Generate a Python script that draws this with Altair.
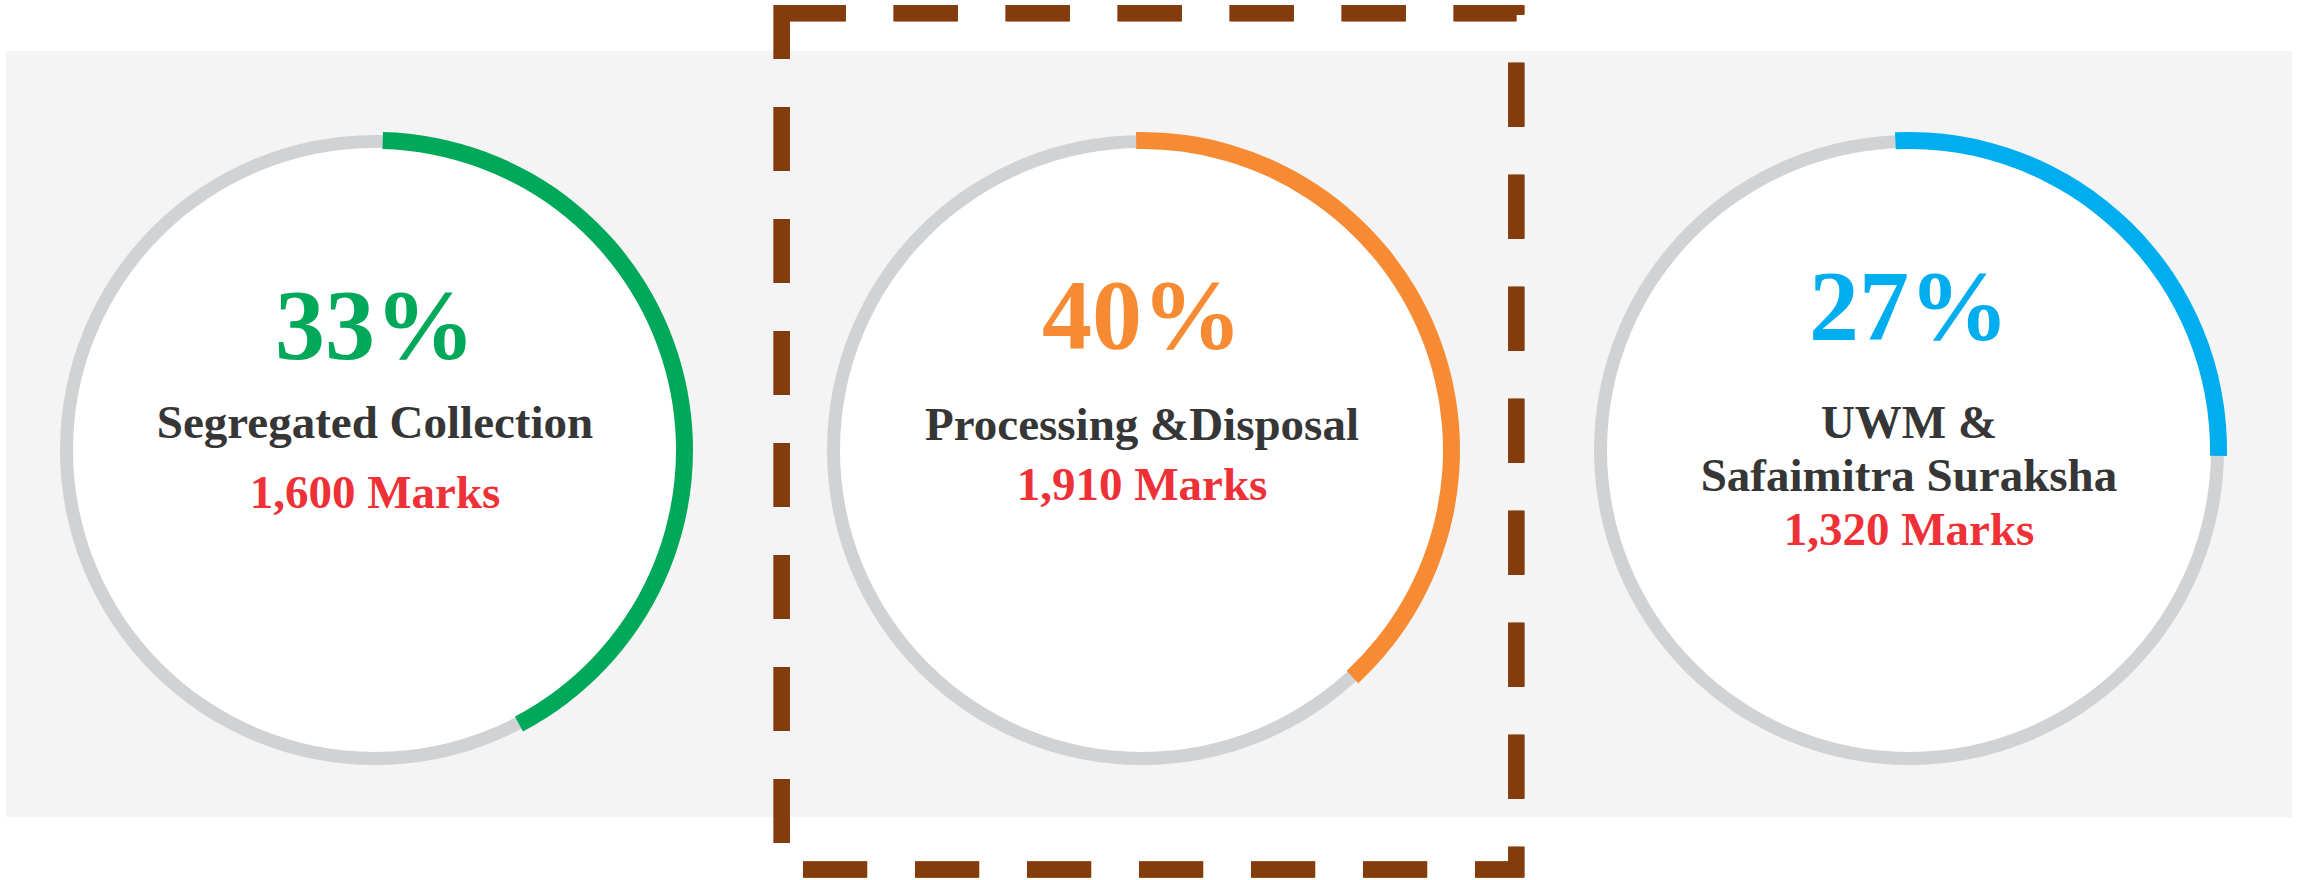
import altair as alt
import pandas as pd

# ---- data ----
categories = ["Segregated Collection", "Processing & Disposal", "UWM & Safaimitra Suraksha"]
pct_labels = ["33%", "40%", "27%"]
marks_labels = ["1,600 Marks", "1,910 Marks", "1,320 Marks"]
# drawn arc extent, as fraction of the full circle (clockwise from 12 o'clock)
arc_start = [0.004, -0.003, -0.007]
arc_end = [0.423, 0.381, 0.253]
title_lines = [["Segregated Collection"], ["Processing &Disposal"], ["UWM &", "Safaimitra Suraksha"]]

colors = ["#00a859", "#f68b33", "#00aeef"]

df = pd.DataFrame({
    "category": categories,
    "pct": pct_labels,
    "marks": marks_labels,
    "arc_start": arc_start,
    "arc_end": arc_end,
})

W, H = 2301, 880
CY = 450
TWO_PI = 6.283185307

xenc = alt.X("category:N", scale=alt.Scale(type="point", domain=categories, range=[375, 1909], padding=0), axis=None)
cenc = alt.Color("category:N", scale=alt.Scale(domain=categories, range=colors), legend=None)

base = alt.Chart(df)

panel = base.mark_rect(color="#f4f4f4").encode(
    x=alt.value(6), x2=alt.value(2292), y=alt.value(51), y2=alt.value(817)
)

disk = base.mark_arc(radius=303, theta=0, theta2=TWO_PI, color="#ffffff").encode(
    x=xenc, y=alt.value(CY)
)
ring = base.mark_arc(radius=315, radius2=302, theta=0, theta2=TWO_PI, color="#d1d2d4").encode(
    x=xenc, y=alt.value(CY)
)
arc = base.mark_arc(radius=318, radius2=301).encode(
    x=xenc,
    y=alt.value(CY),
    theta=alt.Theta("arc_start:Q", scale=alt.Scale(domain=[0, 1], range=[0, TWO_PI]), stack=None),
    theta2=alt.Theta2("arc_end:Q"),
    color=cenc,
)

box = base.mark_rect(filled=False, stroke="#843c0c", strokeWidth=16, strokeDash=[64, 48]).encode(
    x=alt.value(781.7), x2=alt.value(1516.3), y=alt.value(13.3), y2=alt.value(869.5)
)

# text baselines per circle
pct_y = [358, 348, 339]
title_y = [[438], [440], [438, 491]]
marks_y = [508, 500, 545]

FONT = "Liberation Serif"
layers = [panel, disk, ring, arc, box]
for i, cat in enumerate(categories):
    sub = base.transform_filter(alt.datum.category == cat)
    layers.append(sub.mark_text(font=FONT, fontWeight="bold", fontSize=100, baseline="alphabetic", align="center").encode(
        x=xenc, y=alt.value(pct_y[i]), text="pct:N", color=cenc))
    for line, ly in zip(title_lines[i], title_y[i]):
        layers.append(sub.mark_text(font=FONT, fontWeight="bold", fontSize=47, baseline="alphabetic", align="center",
                                    color="#363636", text=line).encode(x=xenc, y=alt.value(ly)))
    layers.append(sub.mark_text(font=FONT, fontWeight="bold", fontSize=47, baseline="alphabetic", align="center",
                                color="#ee3137").encode(x=xenc, y=alt.value(marks_y[i]), text="marks:N"))

chart = alt.layer(*layers).properties(
    width=W, height=H, autosize=alt.AutoSizeParams(type="none"), padding=0, background="#ffffff"
).configure_view(stroke=None)

chart.save("out.html", embed_options={"renderer": "svg", "actions": False})
